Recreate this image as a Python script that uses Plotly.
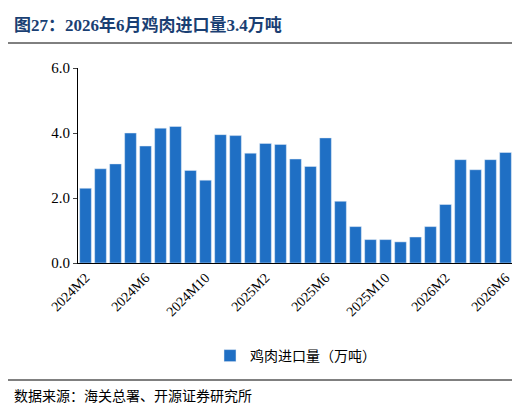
import plotly.graph_objects as go

months = ["2024M2", "2024M3", "2024M4", "2024M5", "2024M6", "2024M7", "2024M8", "2024M9",
          "2024M10", "2024M11", "2024M12", "2025M1", "2025M2", "2025M3", "2025M4", "2025M5",
          "2025M6", "2025M7", "2025M8", "2025M9", "2025M10", "2025M11", "2025M12", "2026M1",
          "2026M2", "2026M3", "2026M4", "2026M5", "2026M6"]
imports = [2.3, 2.9, 3.05, 4.0, 3.6, 4.15, 4.2, 2.85, 2.55, 3.95, 3.92, 3.38, 3.68, 3.65,
           3.2, 2.97, 3.85, 1.9, 1.12, 0.72, 0.72, 0.65, 0.8, 1.12, 1.8, 3.18, 2.87, 3.18, 3.4]
tick_labels = months[::4]

serif = "Liberation Serif, Noto Sans CJK SC"

fig = go.Figure(go.Bar(x=months, y=imports, name="鸡肉进口量（万吨）",
                       marker_color="#1f6fc4", width=0.78))

def px_x(p):
    return (p - 70) / 435

def px_y(p):
    return (255 - p) / 195

fig.update_layout(
    width=520, height=405,
    margin=dict(l=70, r=15, t=60, b=150, autoexpand=False),
    plot_bgcolor="white", paper_bgcolor="white",
    font=dict(family=serif, size=15, color="black"),
    showlegend=True,
    legend=dict(orientation="h", x=0.5, xanchor="center", y=px_y(348), yanchor="middle",
                font=dict(size=14, family="Noto Sans CJK SC")),
    xaxis=dict(tickvals=tick_labels, ticktext=tick_labels, tickangle=-45, automargin=False,
               showline=True, linecolor="black", ticks="", tickfont=dict(size=14)),
    yaxis=dict(range=[0, 6], dtick=2, tickformat=".1f", showline=True, linecolor="black",
               automargin=False, ticks="outside", ticklen=4, showgrid=False,
               tickfont=dict(size=15)),
    shapes=[
        dict(type="line", xref="paper", yref="paper", x0=px_x(0), x1=px_x(520),
             y0=px_y(35), y1=px_y(35), line=dict(color="black", width=1)),
        dict(type="line", xref="paper", yref="paper", x0=px_x(0), x1=px_x(520),
             y0=px_y(372), y1=px_y(372), line=dict(color="black", width=1)),
    ],
    annotations=[
        dict(text="<b>图27：2026年6月鸡肉进口量3.4万吨</b>", xref="paper", yref="paper",
             x=px_x(4), y=px_y(17), xanchor="left", yanchor="middle", showarrow=False,
             font=dict(size=17, color="#1a3f73", family=serif)),
        dict(text="数据来源：海关总署、开源证券研究所", xref="paper", yref="paper",
             x=px_x(4), y=px_y(388), xanchor="left", yanchor="middle", showarrow=False,
             font=dict(size=14, family=serif)),
    ],
)

fig.write_html("out.html")
